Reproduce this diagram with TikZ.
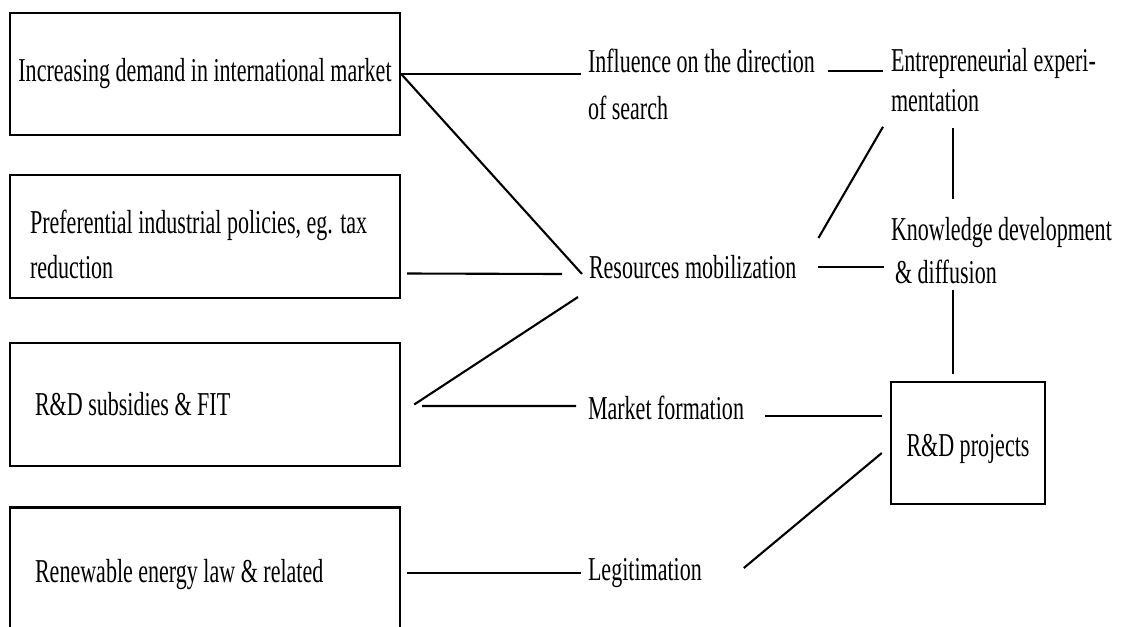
\documentclass[tikz,border=0pt]{standalone}
\usepackage{fontspec}
\setmainfont{Liberation Serif}[FakeStretch=0.66]
\usepackage{tikz}
\usetikzlibrary{calc}
\tikzset{
  policy/.style={draw, line width=1.4pt, minimum width=7.8cm, minimum height=2.46cm, align=flush left},
  func/.style={inner sep=0pt, outer sep=0.14cm, anchor=west, align=left},
  link/.style={line width=1.2pt},
}

\begin{document}
\begin{tikzpicture}[
  x=0.02cm, y=-0.02cm,
  every node/.style={font=\fontsize{19}{25}\selectfont}
]
\useasboundingbox (0,0) rectangle (1122,626);
\clip (0,0) rectangle (1122,626);

\node[policy, minimum height=2.44cm] (dem) at (205,74) {Increasing demand in international market};
\node[policy, inner xsep=0.4cm, text width=7.0cm, text height=0.78cm, font=\fontsize{19}{25.6}\selectfont] (pol) at (205,236.5) {\mbox{Preferential industrial policies, eg. tax}\\reduction};
\node[policy, inner xsep=0.5cm, text width=6.8cm] (rdf) at (205,404.5) {R\&D subsidies \& FIT};
\node[policy, inner xsep=0.5cm, text width=6.8cm, text height=0.66cm, text depth=0.15cm, minimum height=2.5cm] (law) at (205,570) {Renewable energy law \& related};

\node[func, font=\fontsize{19}{26.7}\selectfont] (inf) at (581,84) {Influence on the direction\\of search};
\node[func] (res) at (582,267) {Resources mobilization};
\node[func] (mkt) at (581,408) {Market formation};
\node[func] (leg) at (581,573) {Legitimation};

\node[func, font=\fontsize{19}{22.8}\selectfont] (ent) at (884,80) {Entrepreneurial experi-\\mentation};
\node[func, font=\fontsize{19}{24.5}\selectfont] (kno) at (884,251) {Knowledge development\\\hspace{0.08cm}\& diffusion};
\node[policy, minimum width=3.08cm, minimum height=2.44cm, align=center, text height=0.70cm, text depth=0.15cm] (rd) at (968,443) {R\&D projects};

\path[link]
(dem.east) edge (dem.east -| inf.west)
(dem.east) edge ($(res.west)+(0,7)$)
($(pol.east)+(6,37)$) edge ($(res.west)+(-20,7)$)
($(rdf.east)+(13,0)$) edge ($(res.west)+(-4,30)$)
($(rdf.east)+(21,1.5)$) edge ($(mkt.west)+(-5,-2)$)
($(law.east)+(6,3)$) edge (leg.west)

($(inf.east)+(6,-13)$) edge ($(ent.west)+(-1,-9)$)
($(res.east)+(15,-29)$) edge ($(ent.south west)+(-1,8)$)
($(res.east)+(15,0)$) edge (kno.west |- res.east)
($(ent.south west)+(69,9)$) edge ($(kno.north west)+(69,-12)$)
($(kno.south west)+(69,-1)$) edge ($(rd.north)+(-15,-7)$)

($(mkt.east)+(14,8)$) edge ($(rd.west)+(-8,-27)$)
($(leg.east)+(35,-5)$) edge ($(rd.west)+(-8,10)$);

\end{tikzpicture}
\end{document}
